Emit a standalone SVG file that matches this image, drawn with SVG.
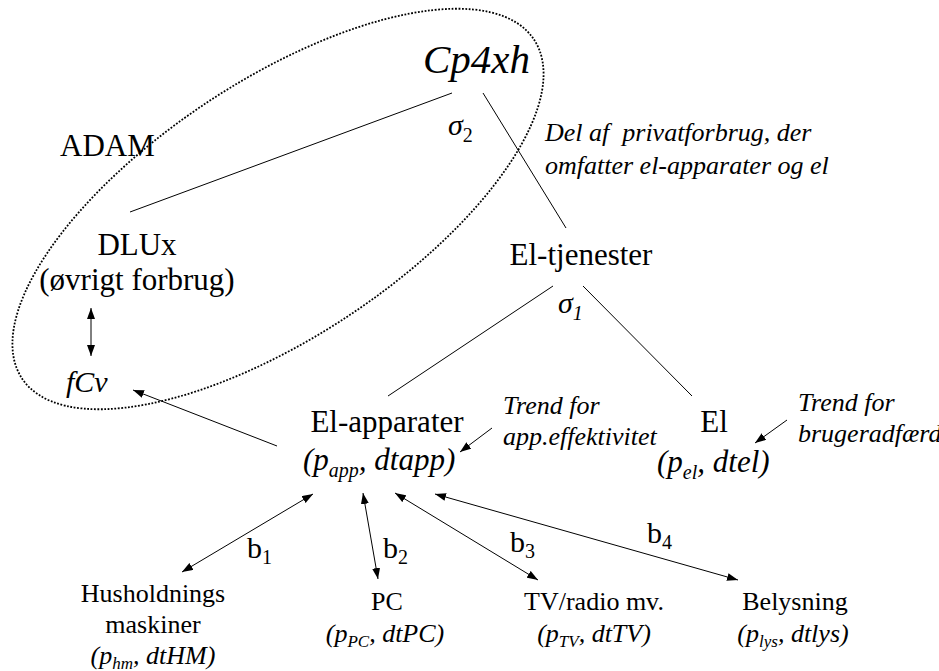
<svg xmlns="http://www.w3.org/2000/svg" width="939" height="671" viewBox="0 0 939 671">
<style>
.t{font-family:"Liberation Serif","Times New Roman",serif;fill:#000}
.i{font-style:italic}
.n{font-style:normal}
.m{text-anchor:middle}
.big{font-size:31px}
.sm{font-size:26px}
.c{stroke:#000;stroke-width:1;fill:none}
.a1{marker-end:url(#ah)}
.a2{marker-start:url(#ah);marker-end:url(#ah)}
</style>
<defs>
<marker id="ah" viewBox="0 0 11 8" refX="11" refY="4" markerWidth="11" markerHeight="8" markerUnits="userSpaceOnUse" orient="auto-start-reverse">
<path d="M0,0 L11,4 L0,8 z" fill="#000"/>
</marker>
</defs>
<rect width="939" height="671" fill="#fff"/>
<g id="adam-boundary">
<ellipse cx="278" cy="209" rx="307" ry="128" transform="rotate(-33.5 278 209)" fill="none" stroke="#000" stroke-width="1.8" stroke-dasharray="1.8 1.6"/>
<text class="t big" x="60" y="156">ADAM</text>
</g>
<g id="connectors">
<line class="c" x1="452" y1="93" x2="130" y2="212"/>
<line class="c" x1="483" y1="93" x2="566" y2="228"/>
<line class="c" x1="553" y1="286" x2="388" y2="396"/>
<line class="c" x1="583" y1="286" x2="692" y2="396"/>
<line class="c a2" x1="91" y1="308" x2="91" y2="356"/>
<line class="c a1" x1="277" y1="446" x2="133" y2="390"/>
<line class="c a1" x1="492" y1="428" x2="460" y2="452"/>
<line class="c a1" x1="787" y1="420" x2="755" y2="443"/>
<line class="c a2" x1="182" y1="572" x2="313" y2="494"/>
<line class="c a2" x1="363" y1="493" x2="378" y2="579"/>
<line class="c a2" x1="395" y1="493" x2="538" y2="580"/>
<line class="c a2" x1="435" y1="494" x2="738" y2="580"/>
</g>
<g id="cp4xh">
<text class="t i" x="423" y="73" font-size="41">Cp4xh</text>
<text class="t i" x="448" y="135" font-size="30">σ<tspan class="n" font-size="20" dy="7">2</tspan></text>
</g>
<g id="note-privatforbrug">
<text class="t i sm" x="545" y="141" xml:space="preserve">Del af  privatforbrug, der</text>
<text class="t i sm" x="545" y="174">omfatter el-apparater og el</text>
</g>
<g id="dlux">
<text class="t big m" x="137" y="255">DLUx</text>
<text class="t big m" x="137" y="290">(øvrigt forbrug)</text>
</g>
<g id="fcv">
<text class="t i" x="66" y="392" font-size="30">fCv</text>
</g>
<g id="el-tjenester">
<text class="t big m" x="581" y="265">El-tjenester</text>
<text class="t i" x="558" y="313" font-size="30">σ<tspan font-size="20" dy="7">1</tspan></text>
</g>
<g id="el-apparater">
<text class="t big m" x="387" y="432">El-apparater</text>
<text class="t i big" x="303" y="470">(p<tspan font-size="20" dy="7">app</tspan><tspan dy="-7">, dtapp)</tspan></text>
</g>
<g id="trend-app">
<text class="t i sm" x="503" y="414">Trend for</text>
<text class="t i sm" x="503" y="445">app.effektivitet</text>
</g>
<g id="el">
<text class="t big m" x="714" y="432">El</text>
<text class="t i big" x="657" y="472">(p<tspan font-size="20" dy="7">el</tspan><tspan dy="-7">, dtel)</tspan></text>
</g>
<g id="trend-el">
<text class="t i sm" x="798" y="411">Trend for</text>
<text class="t i sm" x="798" y="442">brugeradfærd</text>
</g>
<g id="b-labels">
<text class="t" x="247" y="558" font-size="30">b<tspan font-size="20" dy="6">1</tspan></text>
<text class="t" x="383" y="558" font-size="30">b<tspan font-size="20" dy="6">2</tspan></text>
<text class="t" x="510" y="552" font-size="30">b<tspan font-size="20" dy="6">3</tspan></text>
<text class="t" x="647" y="543" font-size="30">b<tspan font-size="20" dy="6">4</tspan></text>
</g>
<g id="husholdningsmaskiner">
<text class="t sm m" x="153" y="602">Husholdnings</text>
<text class="t sm m" x="153" y="633">maskiner</text>
<text class="t i sm m" x="153" y="664">(p<tspan font-size="17" dy="5">hm</tspan><tspan dy="-5">, dtHM)</tspan></text>
</g>
<g id="pc">
<text class="t sm m" x="387" y="610">PC</text>
<text class="t i sm m" x="385" y="642">(p<tspan font-size="17" dy="5">PC</tspan><tspan dy="-5">, dtPC)</tspan></text>
</g>
<g id="tv-radio">
<text class="t sm m" x="594" y="610">TV/radio mv.</text>
<text class="t i sm m" x="594" y="642">(p<tspan font-size="17" dy="5">TV</tspan><tspan dy="-5">, dtTV)</tspan></text>
</g>
<g id="belysning">
<text class="t sm m" x="795" y="610">Belysning</text>
<text class="t i sm m" x="793" y="642">(p<tspan font-size="17" dy="5">lys</tspan><tspan dy="-5">, dtlys)</tspan></text>
</g>
</svg>
